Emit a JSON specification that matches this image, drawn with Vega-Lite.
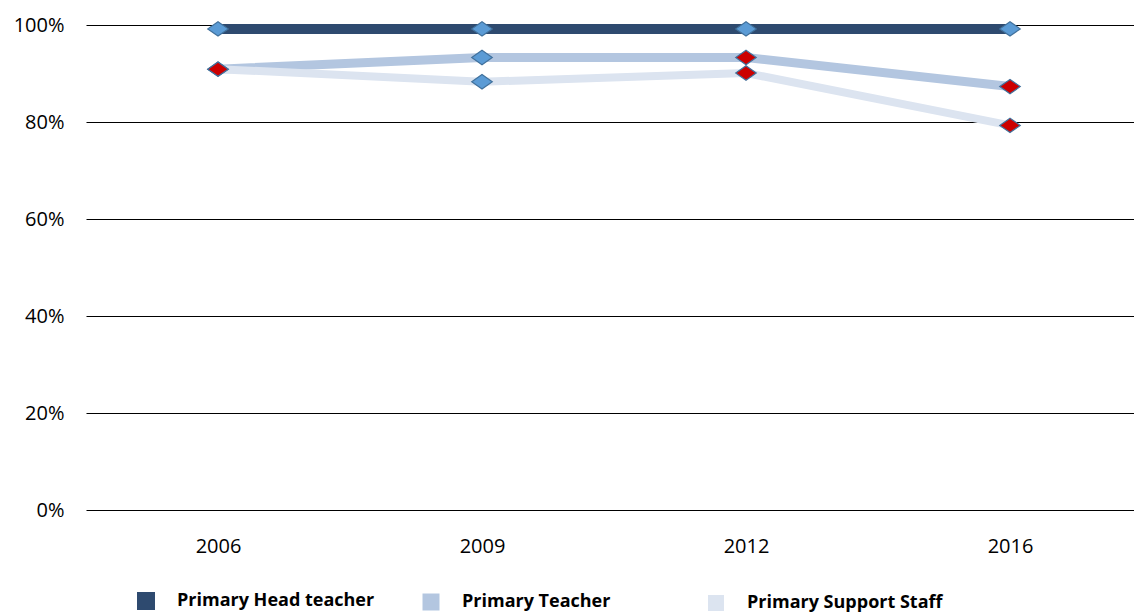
{
  "$schema": "https://vega.github.io/schema/vega-lite/v6.json",
  "autosize": {"type": "none"},
  "width": 1056,
  "height": 485,
  "padding": {"left": 86, "top": 25, "right": 0, "bottom": 106},
  "background": "white",
  "config": {
    "view": {"stroke": null},
    "font": "Open Sans"
  },
  "data": {
    "values": [
      {"year": "2006", "series": "Primary Head teacher", "value": 0.992, "significant": "no"},
      {"year": "2009", "series": "Primary Head teacher", "value": 0.992, "significant": "no"},
      {"year": "2012", "series": "Primary Head teacher", "value": 0.992, "significant": "no"},
      {"year": "2016", "series": "Primary Head teacher", "value": 0.992, "significant": "no"},
      {"year": "2006", "series": "Primary Teacher", "value": 0.909, "significant": "yes"},
      {"year": "2009", "series": "Primary Teacher", "value": 0.933, "significant": "no"},
      {"year": "2012", "series": "Primary Teacher", "value": 0.933, "significant": "yes"},
      {"year": "2016", "series": "Primary Teacher", "value": 0.873, "significant": "yes"},
      {"year": "2006", "series": "Primary Support Staff", "value": 0.909, "significant": "yes"},
      {"year": "2009", "series": "Primary Support Staff", "value": 0.883, "significant": "no"},
      {"year": "2012", "series": "Primary Support Staff", "value": 0.901, "significant": "yes"},
      {"year": "2016", "series": "Primary Support Staff", "value": 0.793, "significant": "yes"}
    ]
  },
  "encoding": {
    "x": {
      "field": "year", "type": "ordinal",
      "scale": {"type": "point", "padding": 0.5},
      "axis": {"title": null, "labelAngle": 0, "domain": false, "ticks": false, "labelPadding": 26, "labelFontSize": 20, "labelColor": "#000000", "labelFont": "Open Sans"}
    },
    "y": {
      "field": "value", "type": "quantitative",
      "scale": {"domain": [0, 1]},
      "axis": {"title": null, "format": "%", "values": [0, 0.2, 0.4, 0.6, 0.8, 1], "domain": false, "ticks": false, "labelPadding": 22, "labelFontSize": 20, "labelColor": "#000000", "gridColor": "#000000", "gridOpacity": 1, "gridWidth": 1.2, "labelFont": "Open Sans"}
    }
  },
  "layer": [
    {
      "mark": {"type": "line", "strokeCap": "butt", "strokeJoin": "round"},
      "encoding": {
        "color": {
          "field": "series", "type": "nominal",
          "scale": {"domain": ["Primary Head teacher", "Primary Teacher", "Primary Support Staff"], "range": ["#2E4A6F", "#B3C6E0", "#DCE4F0"]},
          "legend": {
            "title": null, "orient": "none", "direction": "horizontal",
            "legendX": 51, "legendY": 567,
            "symbolType": "square", "symbolSize": 64, "symbolStrokeWidth": 10,
            "labelFontSize": 18, "labelFontWeight": "bold", "labelColor": "#000000", "labelFont": "Open Sans",
            "labelOffset": 22, "labelLimit": 400, "columnPadding": 34, "gridAlign": "all"
          }
        },
        "strokeWidth": {
          "field": "series", "type": "nominal",
          "scale": {"domain": ["Primary Head teacher", "Primary Teacher", "Primary Support Staff"], "range": [10, 8, 8]},
          "legend": null
        },
        "order": {"field": "series"}
      }
    },
    {
      "mark": {"type": "point", "shape": "M-1,0L0,-0.7L1,0L0,0.7Z", "size": 420, "filled": true, "opacity": 1, "stroke": "#41719C", "strokeWidth": 1.2},
      "encoding": {
        "fill": {
          "field": "significant", "type": "nominal",
          "scale": {"domain": ["no", "yes"], "range": ["#5B9BD5", "#CC0000"]},
          "legend": null
        }
      }
    }
  ]
}
